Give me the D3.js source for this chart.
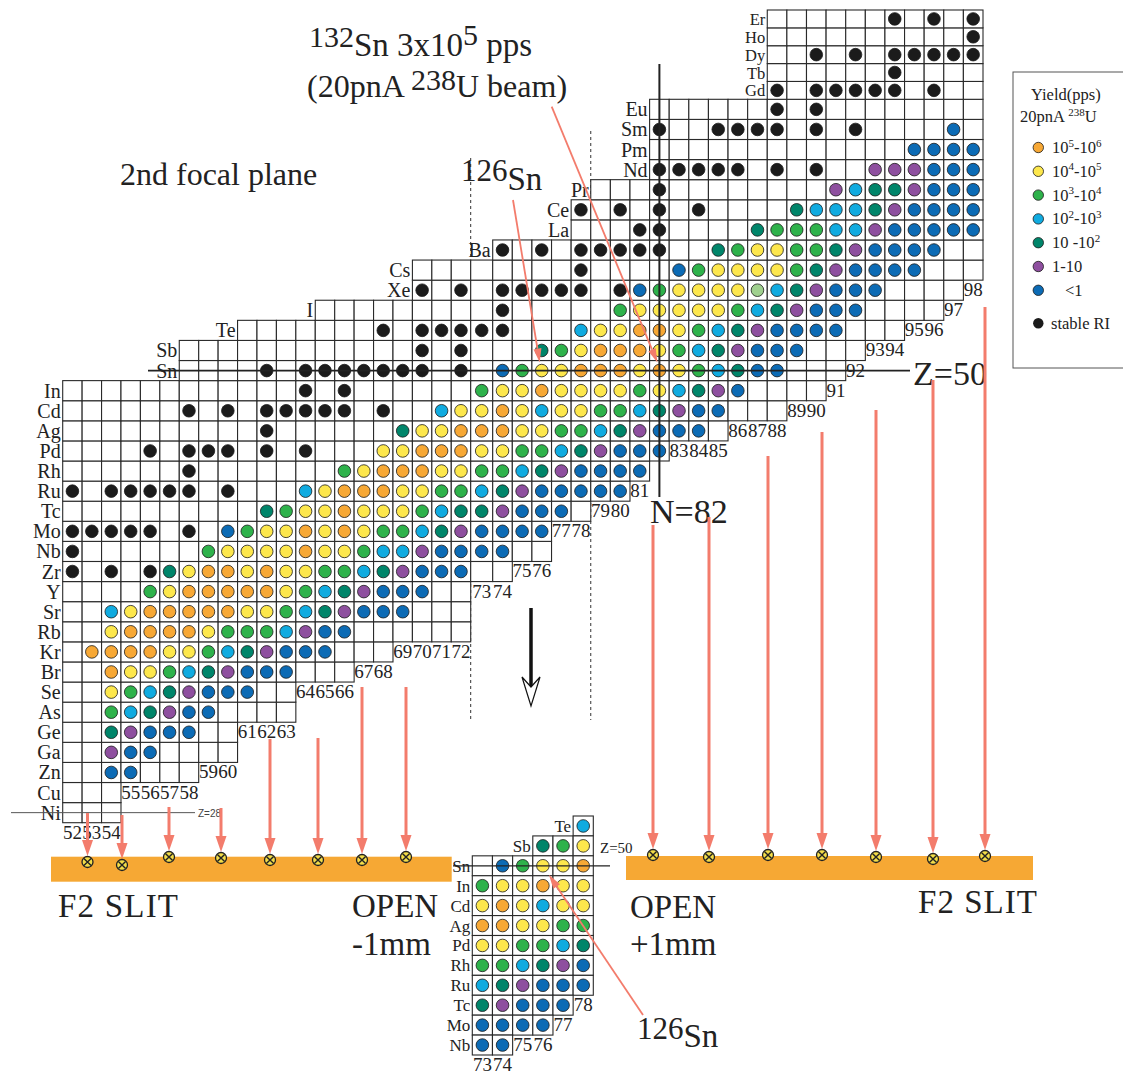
<!DOCTYPE html>
<html>
<head>
<meta charset="utf-8">
<script src="https://cdn.jsdelivr.net/npm/d3@7"></script>
<style>
  body { margin: 0; background: #fff; }
  svg { display: block; font-family: "Liberation Serif", "Times New Roman", serif; }
</style>
</head>
<body>
<svg id="chart" width="1123" height="1075"></svg>
<script>
// element, Z, first N of the row, one yield code per N from there on
// o 1e5-1e6, y 1e4-1e5, g 1e3-1e4, c 1e2-1e3, t 10-1e2, p 1-10, b <1, k stable, . empty cell
const rows = [
  ["Ni", 28, 52, "..."],
  ["Cu", 29, 52, "..."],
  ["Zn", 30, 52, "..bb..."],
  ["Ga", 31, 52, "..pbb...."],
  ["Ge", 32, 52, "..tpbbb.."],
  ["As", 33, 52, "..gctpbb...."],
  ["Se", 34, 52, "..ygctpbbb.."],
  ["Br", 35, 52, "..oyygctpbbb..."],
  ["Kr", 36, 52, ".ooooyygctpbbb..."],
  ["Rb", 37, 52, "..yooooygggcpbb......"],
  ["Sr", 38, 52, "..cyoooooyygctpbbb..."],
  ["Y", 39, 52, "....gyoooooygctpbbb.."],
  ["Zr", 40, 52, "k.k.ktyooyoyyggctpbbb.."],
  ["Nb", 41, 52, "k......gyyyyoyygccpbbbb.."],
  ["Mo", 42, 52, "kkkkk.k.bgyyoyoyggctpbbbb"],
  ["Tc", 43, 52, "..........tgyyoyyygcttpbbb."],
  ["Ru", 44, 52, "k.kkkkk.k...cyoooyyggctpbbbbb"],
  ["Rh", 45, 52, "......k.......gyoooyyggctpbbbb"],
  ["Pd", 46, 52, "....k.kkk.k.k...yyoooyyggctpbbb"],
  ["Ag", 47, 52, "..........k......tyyoooyyggctpbbb."],
  ["Cd", 48, 52, "......k.k.kkkkk.k..cyyoycyyggctpbb..."],
  ["In", 49, 52, "............k.k......gyyoyyyygyctpb...."],
  ["Sn", 50, 58, "....k.kkkkkkk.k.bgyyoooyoygctbb..."],
  ["Sb", 51, 58, "............k.k...tgyoooygctpbbb..."],
  ["Te", 52, 61, ".......k.kkkkk...cyyooygctpbbbb..."],
  ["I", 53, 65, ".........k.....gyyyyygctpbbb...."],
  ["Xe", 54, 70, "k.k.kkkkk.kbgyyyylctpbbb...."],
  ["Cs", 55, 70, "........k....bgyyyygtpbbbb..."],
  ["Ba", 56, 74, "k.k.kkkkk..tgyyggtpbbbb.."],
  ["La", 57, 78, "...kk....tgggccpbbbbb"],
  ["Ce", 58, 78, "k.k.k.k....tccctpbbbb"],
  ["Pr", 59, 79, "...k........pcttpbbb"],
  ["Nd", 60, 82, "kkkkk.k.k..pppbbb"],
  ["Pm", 61, 82, ".............bbbb"],
  ["Sm", 62, 82, "k..kkkk.k.k....b."],
  ["Eu", 63, 82, "......k.k........"],
  ["Gd", 64, 88, "k.kkkkk.k.."],
  ["Tb", 65, 88, "......k...."],
  ["Dy", 66, 88, "..k.k.kkkkk"],
  ["Ho", 67, 88, "..........k"],
  ["Er", 68, 88, "......k.k.k"]
];

// inset around 132Sn: element, Z, first N, last N
const insetRows = [
  ["Te", 52, 78, 78], ["Sb", 51, 76, 78], ["Sn", 50, 73, 78], ["In", 49, 73, 78],
  ["Cd", 48, 73, 78], ["Ag", 47, 73, 78], ["Pd", 46, 73, 78], ["Rh", 45, 73, 78],
  ["Ru", 44, 73, 78], ["Tc", 43, 73, 77], ["Mo", 42, 73, 76], ["Nb", 41, 73, 74]
];

const colors = {
  o: "#F7A835", y: "#FDE74C", g: "#2EB24B", c: "#10ABE0", t: "#00856A",
  p: "#8E4F9F", b: "#0C6BB5", l: "#9FD08E", k: "#1b1b1b"
};

const legendItems = [
  ["o", [["10", "5"], ["-10", "6"]]],
  ["y", [["10", "4"], ["-10", "5"]]],
  ["g", [["10", "3"], ["-10", "4"]]],
  ["c", [["10", "2"], ["-10", "3"]]],
  ["t", [["10 -10", "2"]]],
  ["p", [["1-10", ""]]],
  ["b", [["<1", ""]]]
];

// slit arrows: x, top of line, marker y
const leftSlit = [[87.5, 813, 862], [122, 815, 865], [169, 807, 857], [221, 808, 858],
  [270, 739, 860], [318, 738, 860], [362, 687, 860], [406, 687, 857]];
const rightSlit = [[653, 525, 855], [709, 517, 857], [768, 456, 855], [822, 432, 855],
  [876, 410, 857], [933, 380, 859], [985, 307, 856]];

const salmon = "#F37C6C";
const svg = d3.select("#chart");

const x = d3.scaleLinear().domain([51.5, 72.5, 73.5, 98.5]).range([62.7, 470.7, 492.7, 983]);
const y = d3.scaleLinear().domain([68.5, 63.5, 27.5]).range([10, 99.3, 822.7]);

const cells = rows.flatMap(([el, z, n0, codes]) =>
  Array.from(codes, (c, i) => ({el, z, n: n0 + i, c})));

function codeAt(z, n) {
  const r = rows.find(r => r[1] === z);
  return r ? (r[3][n - r[2]] || ".") : ".";
}

function richText(g, x0, parts, attrs) {
  const t = g.append("text").attr("x", x0);
  parts.forEach(([s, size, yy]) => t.append("tspan").attr("y", yy).attr("font-size", size).text(s));
  if (attrs) Object.entries(attrs).forEach(([k, v]) => t.attr(k, v));
  return t;
}

function arrow(g, x1, y1, x2, y2, w, hl, hw) {
  const a = Math.atan2(y2 - y1, x2 - x1);
  const bx = x2 - hl * Math.cos(a), by = y2 - hl * Math.sin(a);
  g.append("line").attr("x1", x1).attr("y1", y1).attr("x2", bx).attr("y2", by)
    .attr("stroke", salmon).attr("stroke-width", w);
  const px = Math.sin(a) * hw / 2, py = -Math.cos(a) * hw / 2;
  g.append("path")
    .attr("d", `M${x2},${y2}L${bx + px},${by + py}L${bx - px},${by - py}Z`)
    .attr("fill", salmon);
}

// dashed section lines
[[72.5, 158], [78.5, 131]].forEach(([n, top]) => {
  svg.append("line").attr("x1", x(n)).attr("x2", x(n)).attr("y1", top).attr("y2", 720)
    .attr("stroke", "#333").attr("stroke-width", 1).attr("stroke-dasharray", "3,3");
});

// main chart cells
const grid = svg.append("g");
grid.selectAll("rect").data(cells).join("rect")
  .attr("x", d => x(d.n - 0.5)).attr("y", d => y(d.z + 0.5))
  .attr("width", d => x(d.n + 0.5) - x(d.n - 0.5))
  .attr("height", d => y(d.z - 0.5) - y(d.z + 0.5))
  .attr("fill", "#fff").attr("stroke", "#2a2a2a").attr("stroke-width", 1.1);

grid.selectAll("circle").data(cells.filter(d => d.c !== ".")).join("circle")
  .attr("cx", d => x(d.n))
  .attr("cy", d => y(d.z))
  .attr("r", 6.3)
  .attr("fill", d => colors[d.c])
  .attr("stroke", "#1a1a1a").attr("stroke-width", 0.8);

// element labels (the top block of rows is a bit tighter)
svg.append("g").selectAll("text").data(rows).join("text")
  .attr("x", d => x(d[2] - 0.5) - 2)
  .attr("y", d => y(d[1]) + (d[1] >= 64 ? 6 : 7))
  .attr("text-anchor", "end").attr("font-size", d => d[1] >= 64 ? 16.5 : 20).attr("fill", "#222")
  .text(d => d[0]);

// neutron number labels below each column
const lowestZ = n => d3.min(rows.filter(r => n >= r[2] && n < r[2] + r[3].length), r => r[1]);
svg.append("g").selectAll("text").data(d3.range(52, 99).filter(n => n !== 82)).join("text")
  .attr("x", n => x(n))
  .attr("y", n => y(lowestZ(n) - 0.5) + 16)
  .attr("text-anchor", "middle").attr("font-size", 19).attr("fill", "#222")
  .text(n => n);

// magic number lines
svg.append("line").attr("x1", 148).attr("x2", 910).attr("y1", y(50)).attr("y2", y(50))
  .attr("stroke", "#222").attr("stroke-width", 1.8);
svg.append("line").attr("x1", x(82)).attr("x2", x(82)).attr("y1", 64).attr("y2", 497)
  .attr("stroke", "#222").attr("stroke-width", 2);
svg.append("line").attr("x1", 11).attr("x2", 195).attr("y1", y(28)).attr("y2", y(28))
  .attr("stroke", "#555").attr("stroke-width", 1);
svg.append("text").attr("x", 198).attr("y", y(28) + 4).attr("font-size", 10)
  .attr("font-family", "Liberation Sans, sans-serif").attr("fill", "#444").text("Z=28");

svg.append("text").attr("x", 913).attr("y", 385).attr("font-size", 34).attr("fill", "#222").text("Z=50");
svg.append("text").attr("x", 650).attr("y", 523).attr("font-size", 34).attr("fill", "#222").text("N=82");

// titles
const ann = svg.append("g").attr("fill", "#222");
richText(ann, 309, [["132", 30, 47], ["Sn 3x10", 33, 56], ["5", 30, 45], [" pps", 33, 56]]);
richText(ann, 307, [["(20pnA ", 32, 97], ["238", 30, 90], ["U beam)", 32, 97]]);
ann.append("text").attr("x", 120).attr("y", 185).attr("font-size", 32).text("2nd focal plane");
richText(ann, 461, [["126", 31, 181], ["Sn", 33, 190]]);

arrow(svg, 513, 200, x(76) - 2, y(50) - 8, 1.8, 14, 8);
arrow(svg, 551.7, 106.7, x(82) - 2, y(50) - 8, 1.8, 14, 8);

// down arrow
svg.append("line").attr("x1", 531).attr("x2", 531).attr("y1", 608).attr("y2", 688)
  .attr("stroke", "#111").attr("stroke-width", 3.5);
svg.append("path").attr("d", "M522,677L531,706L540,677L531,687Z")
  .attr("fill", "#fff").attr("stroke", "#111").attr("stroke-width", 1.2);

// slits
svg.append("rect").attr("x", 51).attr("y", 856.7).attr("width", 400.7).attr("height", 25)
  .attr("fill", "#F6A834");
svg.append("rect").attr("x", 626).attr("y", 856).attr("width", 407).attr("height", 24)
  .attr("fill", "#F6A834");

leftSlit.concat(rightSlit).forEach(([ax, top, my]) => {
  arrow(svg, ax, top, ax, my - 6, 3, 16, 11);
  const m = svg.append("g").attr("transform", `translate(${ax},${my})`);
  m.append("circle").attr("r", 5.5).attr("fill", "#F2DC48").attr("stroke", "#222").attr("stroke-width", 1.3);
  m.append("path").attr("d", "M-3.6,-3.6L3.6,3.6M-3.6,3.6L3.6,-3.6").attr("stroke", "#222").attr("stroke-width", 1.4);
});

const big = svg.append("g").attr("fill", "#222").attr("font-size", 33);
big.append("text").attr("x", 58).attr("y", 917).attr("textLength", 120).text("F2 SLIT");
big.append("text").attr("x", 918).attr("y", 913).attr("textLength", 119).text("F2 SLIT");
big.append("text").attr("x", 352).attr("y", 917).text("OPEN");
big.append("text").attr("x", 352).attr("y", 955).text("-1mm");
big.append("text").attr("x", 630).attr("y", 918).text("OPEN");
big.append("text").attr("x", 630).attr("y", 955).text("+1mm");

// inset
const xi = d3.scaleLinear().domain([72.5, 78.5]).range([472.3, 593.3]);
const yi = d3.scaleLinear().domain([52.5, 40.5]).range([816, 1055]);
const insetCells = insetRows.flatMap(([el, z, n0, n1]) =>
  d3.range(n0, n1 + 1).map(n => ({el, z, n, c: codeAt(z, n)})));

const inset = svg.append("g");
inset.selectAll("rect").data(insetCells).join("rect")
  .attr("x", d => xi(d.n - 0.5)).attr("y", d => yi(d.z + 0.5))
  .attr("width", xi(1) - xi(0)).attr("height", yi(0) - yi(1))
  .attr("fill", "#fff").attr("stroke", "#2a2a2a").attr("stroke-width", 1.1);
inset.selectAll("circle").data(insetCells.filter(d => d.c !== ".")).join("circle")
  .attr("cx", d => xi(d.n)).attr("cy", d => yi(d.z)).attr("r", 6.3)
  .attr("fill", d => colors[d.c]).attr("stroke", "#1a1a1a").attr("stroke-width", 0.8);
inset.selectAll("text.el").data(insetRows).join("text").attr("class", "el")
  .attr("x", d => xi(d[2] - 0.5) - 2).attr("y", d => yi(d[1]) + 6)
  .attr("text-anchor", "end").attr("font-size", 17).attr("fill", "#222").text(d => d[0]);
const insetLow = n => d3.min(insetRows.filter(r => n >= r[2] && n <= r[3]), r => r[1]);
inset.selectAll("text.n").data(d3.range(73, 79)).join("text").attr("class", "n")
  .attr("x", n => xi(n)).attr("y", n => yi(insetLow(n) - 0.5) + 16)
  .attr("text-anchor", "middle").attr("font-size", 19).attr("fill", "#222").text(n => n);
inset.append("line").attr("x1", 453).attr("x2", 610).attr("y1", yi(50)).attr("y2", yi(50))
  .attr("stroke", "#222").attr("stroke-width", 1.2);
inset.append("text").attr("x", 600).attr("y", 853).attr("font-size", 15).attr("fill", "#222").text("Z=50");
arrow(svg, 643, 1015, xi(76) + 6, yi(50) + 9, 1.8, 14, 8);
richText(ann, 637, [["126", 31, 1039], ["Sn", 33, 1047]]);

// legend
const lg = svg.append("g");
lg.append("rect").attr("x", 1013).attr("y", 72).attr("width", 120).attr("height", 296)
  .attr("fill", "#fff").attr("stroke", "#555").attr("stroke-width", 1);
lg.append("text").attr("x", 1031).attr("y", 100).attr("font-size", 16.5).attr("fill", "#222").text("Yield(pps)");
richText(lg, 1020, [["20pnA ", 16.5, 122], ["238", 11, 116], ["U", 16.5, 122]], {fill: "#222"});
legendItems.forEach(([code, parts], i) => {
  const ly = 147.5 + i * 23.8;
  lg.append("circle").attr("cx", 1038.3).attr("cy", ly).attr("r", 5.2)
    .attr("fill", colors[code]).attr("stroke", "#1a1a1a").attr("stroke-width", 0.8);
  const t = lg.append("text").attr("x", code === "b" ? 1065 : 1052).attr("fill", "#222");
  parts.forEach(([base, sup]) => {
    t.append("tspan").attr("y", ly + 5.5).attr("font-size", 16.5).text(base);
    if (sup) t.append("tspan").attr("y", ly - 1).attr("font-size", 11).text(sup);
  });
});
lg.append("circle").attr("cx", 1038.3).attr("cy", 323.3).attr("r", 5.2).attr("fill", colors.k);
lg.append("text").attr("x", 1051).attr("y", 329).attr("font-size", 16.5).attr("fill", "#222").text("stable RI");
</script>
</body>
</html>
